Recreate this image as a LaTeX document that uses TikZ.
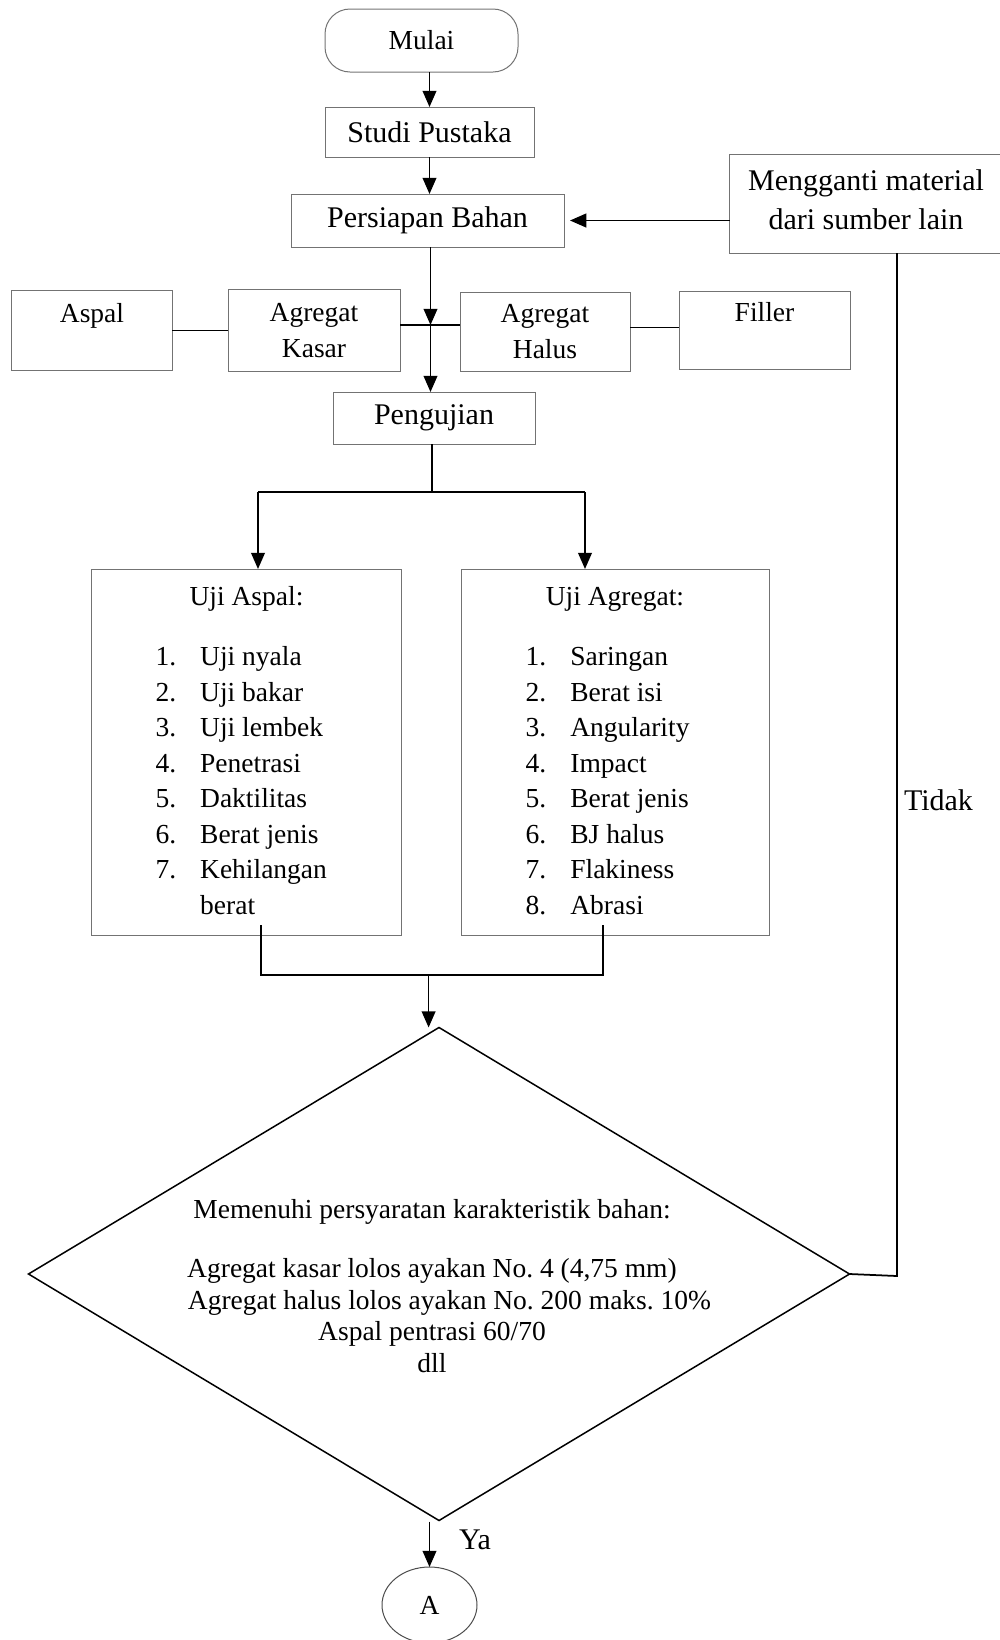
\documentclass[tikz,border=0pt]{standalone}
\usepackage{fontspec}
\setmainfont{Liberation Serif}
\usetikzlibrary{shapes.geometric,arrows.meta}

\begin{document}
\begin{tikzpicture}[x=0.4pt,y=-0.4pt,
  every node/.style={font=\fontsize{11}{14.4}\selectfont, inner sep=2pt, outer sep=0pt},
  big/.style={font=\fontsize{12}{15.6}\selectfont},
  proc/.style={draw=black!55, line width=0.4pt, align=center},
  term/.style={proc, rounded corners=10pt},
  listbox/.style={proc, minimum height=146.4pt, font=\fontsize{11}{14.2}\selectfont},
  choice/.style={diamond, draw, line width=0.6pt, minimum width=328.4pt, minimum height=197.2pt, inner sep=0pt},
  conn/.style={line width=0.7pt},
  arr/.style={conn, -{Triangle[length=6.5pt,width=5.5pt]}}]

\useasboundingbox (0,0) rectangle (1000,1640);

\node[term, minimum width=77.2pt, minimum height=25.2pt] (mulai) at (421.5,40.5) {Mulai};
\node[proc, big, minimum width=83.6pt, minimum height=20pt] (studi) at (429.5,132) {Studi Pustaka};
\node[proc, big, minimum width=109.2pt, minimum height=21.2pt] (persiapan) at (427.5,220.5) {Persiapan Bahan};
\node[proc, big, minimum width=109.2pt, minimum height=39.6pt] (mengganti) at (866,203.5) {Mengganti material\\dari sumber lain\rule[-3pt]{0pt}{0pt}};

\node[proc, minimum width=64pt, minimum height=32pt] (aspal) at (92,330.5) {Aspal\\\mbox{}};
\node[proc, minimum width=68.8pt, minimum height=32.8pt] (kasar) at (314,330.5) {Agregat\\Kasar};
\node[proc, minimum width=68pt, minimum height=31.6pt] (halus) at (545,331.5) {Agregat\\Halus};
\node[proc, minimum width=68.4pt, minimum height=31.2pt] (filler) at (764.5,330) {Filler\\\mbox{}};
\node[proc, big, minimum width=80.8pt, minimum height=20.8pt] (pengujian) at (434,418) {Pengujian};

\node[listbox, minimum width=123.6pt] (ujiaspal) at (246.5,752) {\rule{0pt}{10.3pt}Uji Aspal:\\[10pt]
  \begin{tabular}[t]{@{}l@{\hspace{9.6pt}}l@{}}
    1. & Uji nyala\\
    2. & Uji bakar\\
    3. & Uji lembek\\
    4. & Penetrasi\\
    5. & Daktilitas\\
    6. & Berat jenis\\
    7. & Kehilangan\\
       & berat
  \end{tabular}\hspace*{4.2pt}};
\node[listbox, minimum width=123.2pt] (ujiagregat) at (615,752) {\rule{0pt}{10.3pt}Uji Agregat:\\[10pt]
  \begin{tabular}[t]{@{}l@{\hspace{9.6pt}}l@{}}
    1. & Saringan\\
    2. & Berat isi\\
    3. & Angularity\\
    4. & Impact\\
    5. & Berat jenis\\
    6. & BJ halus\\
    7. & Flakiness\\
    8. & Abrasi
  \end{tabular}\hspace*{5.9pt}};

\node[choice] (decision) at (439,1274) {};
\node[align=center, inner sep=0pt, font=\fontsize{11}{12.6}\selectfont\frenchspacing] (syarat) at (432,1286) {Memenuhi persyaratan karakteristik bahan:\\[11pt]
  Agregat kasar lolos ayakan No. 4 (4,75 mm)\\
  \hspace*{14pt}Agregat halus lolos ayakan No. 200 maks. 10\%\\
  Aspal pentrasi 60/70\\
  dll};
\node[ellipse, draw=black!70, line width=0.4pt, minimum width=38pt, minimum height=30.4pt, inner sep=0pt] (circA) at (429.5,1605) {A};

\node[big, anchor=west] (tidak) at (899,800) {Tidak};
\node[big] (ya) at (475,1540) {Ya};

% junction points
\coordinate (junc) at (430.5,325);
\coordinate (split) at (432,492);
\coordinate (sl) at (258,492);
\coordinate (sr) at (585,492);
\coordinate (ml) at (261,975);
\coordinate (mr) at (603,975);
\coordinate (merge) at (428.6,975);
\coordinate (back) at (897,1276);

\draw[arr] (studi.north |- mulai.south) -- (studi.north);
\draw[arr] (studi.south) -- (studi.south |- persiapan.north);
\draw[arr, shorten >=2.4pt] (mengganti.west |- persiapan.east) -- (persiapan.east);
\draw[arr] (persiapan.south -| junc) -- (junc);
\draw[arr] (junc) -- (junc |- pengujian.north);
\draw[conn] (aspal) -- (kasar);
\draw[conn] (kasar.east |- junc) -- (halus.west |- junc);
\draw[conn] ([yshift=1.6pt]halus.east) -- ([yshift=1.6pt]halus.east -| filler.west);

\draw[conn] (pengujian.south -| split) -- (split);
\draw[conn] (sl) -- (sr);
\draw[arr] (sl) -- (sl |- ujiaspal.north);
\draw[arr] (sr) -- (sr |- ujiagregat.north);

\draw[conn] ([yshift=4pt]ujiaspal.south -| ml) -- (ml) -- (mr) -- ([yshift=4pt]ujiagregat.south -| mr);
\draw[arr] (merge) -- (merge |- decision.north);

\draw[conn] (decision.east) -- (back) -- (back |- mengganti.south);
\draw[arr] (decision.south -| circA) ++(0,1) -- (circA.north);
\end{tikzpicture}
\end{document}
